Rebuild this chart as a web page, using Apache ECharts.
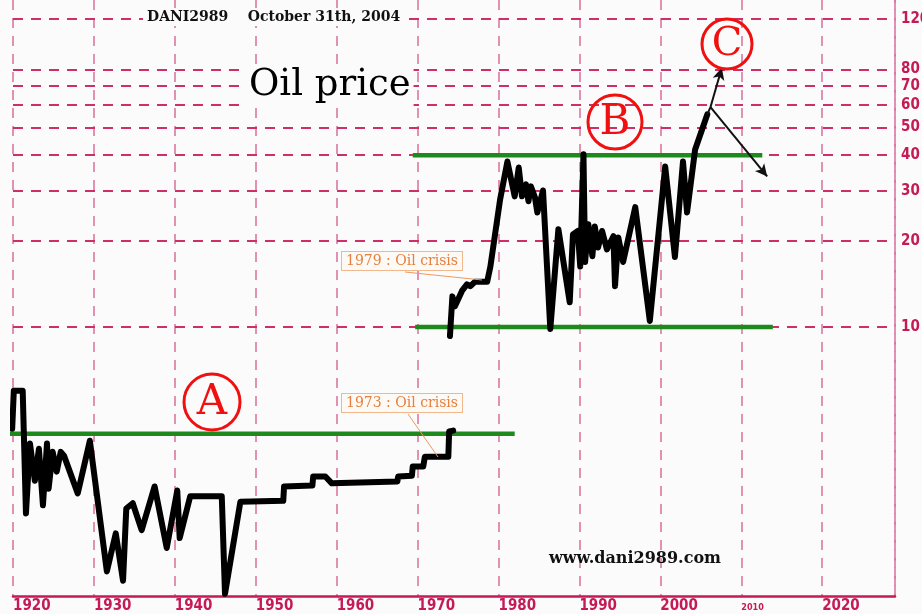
<!DOCTYPE html>
<html>
<head>
<meta charset="utf-8">
<title>Oil price</title>
<script src="https://cdn.jsdelivr.net/npm/echarts/dist/echarts.min.js"></script>
<style>
html, body { margin: 0; padding: 0; background: #fbfbfb; }
#main { width: 922px; height: 614px; }
</style>
</head>
<body>
<div id="main"></div>
<script>
// 1920 - 1973 part (drawn in the lower band of the picture)
var oldYears = [1919.9, 1920.1, 1921.2, 1921.6, 1922.1, 1922.7, 1923.2, 1923.7, 1924.2, 1924.4,
    1924.9, 1925.4, 1925.9, 1926.3, 1928.0, 1929.5, 1931.6, 1932.7, 1933.6, 1934.0,
    1934.8, 1935.9, 1937.5, 1939.0, 1940.3, 1940.6, 1941.9, 1945.8, 1946.2, 1948.1,
    1953.4, 1953.5, 1957.0, 1957.1, 1958.6, 1959.4, 1967.5, 1967.6, 1969.3, 1969.4,
    1970.7, 1970.9, 1973.8, 1973.9, 1974.4];
var oldPrices = [4.40, 5.97, 5.97, 2.22, 3.90, 2.89, 3.74, 2.37, 3.90, 2.71,
    3.65, 3.11, 3.65, 3.54, 2.61, 3.99, 1.39, 1.89, 1.29, 2.31,
    2.41, 1.94, 2.76, 1.68, 2.67, 1.82, 2.55, 2.55, 1.16, 2.44,
    2.46, 2.76, 2.78, 2.99, 2.99, 2.83, 2.87, 2.99, 3.01, 3.24,
    3.24, 3.51, 3.51, 4.30, 4.33];

// 1974 - 2004 part
var newYears = [1974.0, 1974.3, 1974.6, 1975.5, 1976.1, 1976.5, 1977.1, 1978.6, 1979.0, 1980.2,
    1981.1, 1982.0, 1982.5, 1982.9, 1983.4, 1983.7, 1984.0, 1984.5, 1984.8, 1985.5,
    1986.4, 1987.4, 1988.8, 1989.2, 1989.8, 1990.1, 1990.5, 1990.7, 1991.1, 1991.6,
    1991.9, 1992.3, 1992.8, 1993.4, 1994.2, 1994.4, 1994.8, 1995.4, 1996.9, 1998.7,
    2000.6, 2001.8, 2002.8, 2003.3, 2004.3, 2005.8];
var newPrices = [9.3, 12.8, 11.8, 13.4, 14.1, 13.9, 14.4, 14.4, 16.3, 28.0,
    38.0, 28.7, 36.2, 28.7, 31.6, 27.6, 31.1, 28.5, 25.2, 30.1,
    9.84, 22.0, 12.2, 21.1, 21.7, 16.3, 40.3, 16.9, 22.9, 17.7,
    22.5, 19.0, 21.7, 18.7, 20.8, 13.9, 20.6, 16.9, 26.3, 10.5,
    36.5, 17.6, 38.0, 25.2, 41.9, 55.6];

// green levels: [from year, to year, price]
var levelA = [1919.5, 1982.0, 4.22];
var levelBTop = [1969.4, 2012.6, 40];
var levelBLow = [1969.7, 2013.9, 10];

// the fork at the end: up to C, down back under 40
var forkStart = [2005.8, 55.6];
var forkPoint = [2006.2, 59];
var arrowUp = [2007.6, 81];
var arrowDown = [2013.2, 33.7];

var priceTicks = [120, 80, 70, 60, 50, 40, 30, 20, 10];

var crimson = '#c41a55';
var pinkGrid = '#cf2f68';
var pinkV = '#d9709c';
var labelFont = "'DejaVu Sans Condensed', 'Liberation Sans Narrow', 'Liberation Sans', sans-serif";

function pairs(xs, ys) {
    var out = [];
    for (var i = 0; i < xs.length; i++) {
        out.push([xs[i], ys[i]]);
    }
    return out;
}

function level(l) {
    return [[l[0], l[2]], [l[1], l[2]]];
}

var gridLines = [];
for (var i = 0; i < priceTicks.length; i++) {
    gridLines.push([
        { coord: [1920, priceTicks[i]], name: '' + priceTicks[i] },
        { coord: [2029, priceTicks[i]] }
    ]);
}

var myChart = echarts.init(document.getElementById('main'));

var option = {
    backgroundColor: '#fbfbfb',
    animation: false,
    grid: { left: 13, right: 27, top: 0, bottom: 17 },
    xAxis: {
        type: 'value',
        min: 1920,
        max: 2029,
        interval: 10,
        axisLine: { show: true, onZero: false, lineStyle: { color: crimson, width: 2.5 } },
        axisTick: { show: false },
        axisLabel: {
            align: 'left',
            margin: 3,
            color: crimson,
            fontSize: 15,
            fontWeight: 'bold',
            fontFamily: labelFont,
            showMaxLabel: false,
            formatter: function (v) {
                return v === 2010 ? '{s|2010}' : '' + v;
            },
            rich: {
                s: { fontSize: 9, fontWeight: 'bold', color: crimson, padding: [4, 0, 0, 0] }
            }
        },
        splitLine: { show: true, lineStyle: { color: pinkV, width: 1.5, type: [10, 8] } }
    },
    yAxis: {
        type: 'log',
        logBase: 10,
        min: 1.14,
        max: 140,
        position: 'right',
        axisLine: { show: true, lineStyle: { color: pinkV, width: 1.5, type: [10, 8] } },
        axisTick: { show: false },
        axisLabel: { show: false },
        splitLine: { show: false }
    },
    series: [
        {
            // dashed price grid with the labels on the right
            type: 'line',
            z: 1,
            data: [[2029, 10]],
            showSymbol: false,
            lineStyle: { width: 0 },
            silent: true,
            clip: false,
            markLine: {
                z: 1,
                silent: true,
                symbol: ['none', 'none'],
                lineStyle: { color: pinkGrid, width: 2, type: [10, 8] },
                label: {
                    show: true,
                    position: 'end',
                    distance: 6,
                    formatter: '{b}',
                    color: crimson,
                    fontSize: 15,
                    fontWeight: 'bold',
                    fontFamily: labelFont
                },
                data: gridLines
            }
        },
        {
            type: 'line', z: 3, data: level(levelA), showSymbol: false, clip: false,
            lineStyle: { color: '#1e8a1e', width: 4.5 }
        },
        {
            type: 'line', z: 3, data: level(levelBTop), showSymbol: false, clip: false,
            lineStyle: { color: '#1e8a1e', width: 4.5 }
        },
        {
            type: 'line', z: 3, data: level(levelBLow), showSymbol: false, clip: false,
            lineStyle: { color: '#1e8a1e', width: 4.5 }
        },
        {
            type: 'line', z: 4, data: pairs(oldYears, oldPrices), showSymbol: false, clip: false,
            lineStyle: { color: '#000', width: 6, join: 'round', cap: 'round' }
        },
        {
            type: 'line', z: 4, data: pairs(newYears, newPrices), showSymbol: false, clip: false,
            lineStyle: { color: '#000', width: 6, join: 'round', cap: 'round' },
            markLine: {
                silent: true,
                symbol: ['none', 'arrow'],
                symbolSize: [9, 12],
                lineStyle: { color: '#111', width: 2, type: 'solid' },
                label: { show: false },
                data: [
                    [{ coord: forkStart, symbol: 'none' }, { coord: forkPoint, symbol: 'none' }],
                    [{ coord: forkPoint }, { coord: arrowUp }],
                    [{ coord: forkPoint }, { coord: arrowDown }]
                ]
            }
        }
    ],
    graphic: [
        {
            type: 'text', z: 100, x: 143, y: 8,
            style: {
                text: 'DANI2989    October 31th, 2004',
                font: 'bold 14px "DejaVu Serif", serif',
                fill: '#111',
                backgroundColor: '#fbfbfb',
                padding: [2, 4]
            }
        },
        {
            type: 'text', z: 100, x: 246, y: 64,
            style: {
                text: 'Oil price',
                font: '37px "DejaVu Serif", serif',
                fill: '#000',
                backgroundColor: '#fbfbfb',
                padding: [3, 3]
            }
        },
        {
            type: 'text', z: 100, x: 549, y: 551,
            style: {
                text: 'www.dani2989.com',
                font: 'bold 16px "DejaVu Serif", serif',
                fill: '#111'
            }
        },
        // oil crisis notes
        {
            type: 'line', z: 99,
            shape: { x1: 405, y1: 272, x2: 482, y2: 280 },
            style: { stroke: '#ec9a62', lineWidth: 1 }
        },
        {
            type: 'line', z: 99,
            shape: { x1: 408, y1: 414, x2: 438, y2: 457 },
            style: { stroke: '#ec9a62', lineWidth: 1 }
        },
        {
            type: 'text', z: 100, x: 342, y: 252,
            style: {
                text: '1979 : Oil crisis',
                font: '14px "DejaVu Serif", serif',
                fill: '#e5803e',
                backgroundColor: '#fdfaf6',
                borderColor: '#f0b88c',
                borderWidth: 1,
                padding: [2, 4]
            }
        },
        {
            type: 'text', z: 100, x: 342, y: 394,
            style: {
                text: '1973 : Oil crisis',
                font: '14px "DejaVu Serif", serif',
                fill: '#e5803e',
                backgroundColor: '#fdfaf6',
                borderColor: '#f0b88c',
                borderWidth: 1,
                padding: [2, 4]
            }
        },
        // circled letters
        {
            type: 'circle', z: 100, shape: { cx: 212, cy: 402, r: 28 },
            style: { fill: 'none', stroke: '#f01010', lineWidth: 3 }
        },
        {
            type: 'text', z: 101, x: 212, y: 403,
            style: { text: 'A', font: '42px "DejaVu Serif", serif', fill: '#f01010', align: 'center', verticalAlign: 'middle', textAlign: 'center', textVerticalAlign: 'middle' }
        },
        {
            type: 'circle', z: 100, shape: { cx: 615, cy: 122, r: 27 },
            style: { fill: 'none', stroke: '#f01010', lineWidth: 3 }
        },
        {
            type: 'text', z: 101, x: 615, y: 123,
            style: { text: 'B', font: '42px "DejaVu Serif", serif', fill: '#f01010', align: 'center', verticalAlign: 'middle', textAlign: 'center', textVerticalAlign: 'middle' }
        },
        {
            type: 'circle', z: 100, shape: { cx: 727, cy: 44, r: 25 },
            style: { fill: 'none', stroke: '#f01010', lineWidth: 3 }
        },
        {
            type: 'text', z: 101, x: 727, y: 45,
            style: { text: 'C', font: '40px "DejaVu Serif", serif', fill: '#f01010', align: 'center', verticalAlign: 'middle', textAlign: 'center', textVerticalAlign: 'middle' }
        }
    ]
};

myChart.setOption(option);
</script>
</body>
</html>
